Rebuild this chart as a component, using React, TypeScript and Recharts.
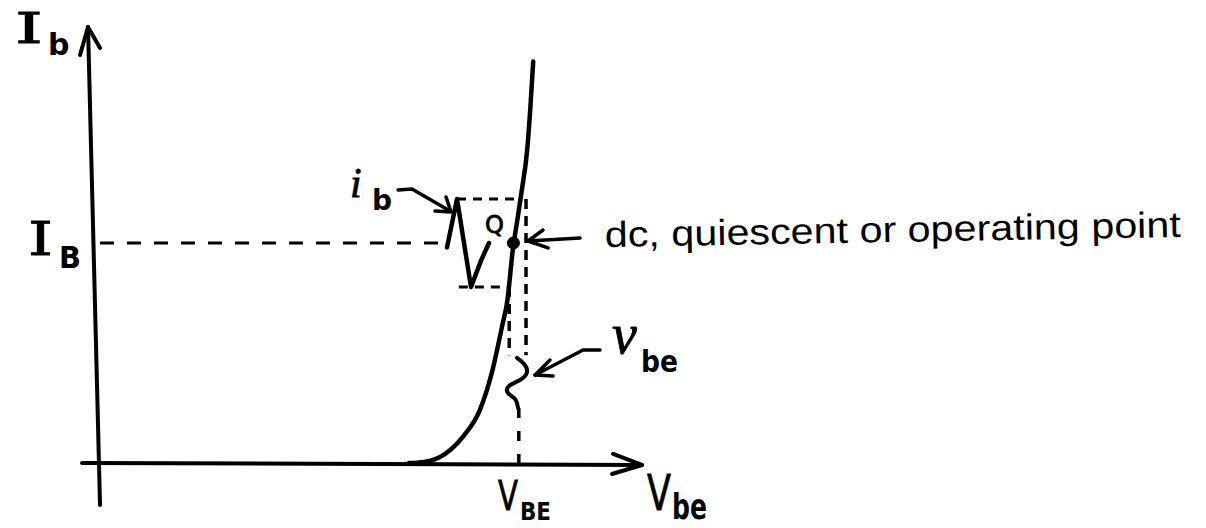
import { ComposedChart, Line, XAxis, YAxis, ReferenceLine, ReferenceDot } from "recharts";

// Transistor input characteristic: base current Ib (µA) vs base–emitter voltage Vbe (V)
const inputCurve = [
  { v: 0.52, i: 0 },
  { v: 0.545, i: 0.1 },
  { v: 0.57, i: 0.5 },
  { v: 0.61, i: 2.4 },
  { v: 0.638, i: 4.8 },
  { v: 0.658, i: 8.2 },
  { v: 0.675, i: 12.4 },
  { v: 0.684, i: 14.8 },
  { v: 0.693, i: 19.4 },
  { v: 0.7, i: 21.9 },
  { v: 0.708, i: 24.8 },
  { v: 0.717, i: 28.5 },
  { v: 0.722, i: 32.1 },
  { v: 0.727, i: 36.5 }
];

// operating point
const V_BE = 0.694;
const I_B = 20;
const IB_PEAK = 24;
const IB_TROUGH = 16;

// small-signal base current swing, sketched against time
const ibWave = [
  { v: 0.5833, i: 19.6 },
  { v: 0.6, i: 24 },
  { v: 0.6233, i: 16 },
  { v: 0.64, i: 18.4 },
  { v: 0.6533, i: 20 }
];

// small-signal vbe swing, time runs downward
const vbeWave = [
  { v: 0.7, i: 9.55 },
  { v: 0.7117, i: 9.0 },
  { v: 0.7167, i: 8.27 },
  { v: 0.705, i: 7.55 },
  { v: 0.6867, i: 7.0 },
  { v: 0.685, i: 6.36 },
  { v: 0.6967, i: 5.82 },
  { v: 0.7017, i: 5.0 }
];

// axes drawn by hand, with open arrowheads
const yAxisStroke = [
  { v: 0.005, i: -3.82 },
  { v: -0.015, i: 39.64 }
];
const yAxisHead = [
  { v: -0.0283, i: 37.09 },
  { v: -0.015, i: 39.64 },
  { v: 0.005, i: 37.73 }
];
const xAxisStroke = [
  { v: -0.025, i: 0 },
  { v: 0.9083, i: -0.18 }
];
const xAxisHead = [
  { v: 0.86, i: 0.82 },
  { v: 0.9083, i: -0.18 },
  { v: 0.8583, i: -1.0 }
];

// pointer arrows for the labels
const ibArrow = [
  { v: 0.5017, i: 24.82 },
  { v: 0.525, i: 24.91 },
  { v: 0.5883, i: 22.91 }
];
const ibArrowHead = [
  { v: 0.5633, i: 22.91 },
  { v: 0.59, i: 22.82 },
  { v: 0.5817, i: 24.18 }
];
const qArrow = [
  { v: 0.805, i: 20.45 },
  { v: 0.7183, i: 20.18 }
];
const qArrowHead = [
  { v: 0.7433, i: 21.18 },
  { v: 0.7183, i: 20.18 },
  { v: 0.7517, i: 19.55 }
];
const vbeArrow = [
  { v: 0.8383, i: 10.27 },
  { v: 0.81, i: 10.27 },
  { v: 0.73, i: 8.0 }
];
const vbeArrowHead = [
  { v: 0.755, i: 9.36 },
  { v: 0.73, i: 8.0 },
  { v: 0.76, i: 7.91 }
];

const V_DOMAIN = [-0.1617, 1.8483];
const I_DOMAIN = [-5.909, 42.091];

const INK = "#000";
const SANS = "'DejaVu Sans', sans-serif";
const SERIF = "'DejaVu Serif', serif";
const ITALIC = "'Liberation Serif', serif";

type SymProps = {
  cx?: number;
  cy?: number;
  main: string;
  sub?: string;
  font: string;
  size: number;
  mainWidth?: number;
  subSize?: number;
  subWidth?: number;
  subDx?: number;
  subDy?: number;
  italic?: boolean;
};

// a letter with an optional subscript, hand-lettered widths forced via textLength
function Sym({
  cx = 0,
  cy = 0,
  main,
  sub,
  font,
  size,
  mainWidth,
  subSize = 28,
  subWidth,
  subDx = 0,
  subDy = 0,
  italic
}: SymProps) {
  return (
    <g>
      <text
        x={cx}
        y={cy}
        fontFamily={font}
        fontSize={size}
        fontStyle={italic ? "italic" : "normal"}
        textLength={mainWidth}
        lengthAdjust={mainWidth ? "spacingAndGlyphs" : undefined}
        fill={INK}
        stroke={INK}
        strokeWidth={0.8}
      >
        {main}
      </text>
      {sub && (
        <text
          x={cx + subDx}
          y={cy + subDy}
          fontFamily={SANS}
          fontSize={subSize}
          fontWeight="bold"
          textLength={subWidth}
          lengthAdjust={subWidth ? "spacingAndGlyphs" : undefined}
          fill={INK}
        >
          {sub}
        </text>
      )}
    </g>
  );
}

const ink = (data: { v: number; i: number }[], width: number, type: "linear" | "monotone" | "natural" = "linear") => (
  <Line
    data={data}
    dataKey="i"
    type={type}
    stroke={INK}
    strokeWidth={width}
    strokeLinecap="round"
    strokeLinejoin="round"
    dot={false}
    activeDot={false}
    isAnimationActive={false}
  />
);

export default function App() {
  return (
    <div style={{ position: "absolute", left: 0, top: 0, width: 1206, height: 528, background: "#fff" }}>
      <ComposedChart width={1206} height={528} margin={{ top: 0, right: 0, bottom: 0, left: 0 }}>
        <XAxis type="number" dataKey="v" domain={V_DOMAIN} hide allowDataOverflow />
        <YAxis type="number" dataKey="i" domain={I_DOMAIN} hide allowDataOverflow />

        {/* projection lines from the operating point */}
        <ReferenceLine
          segment={[{ x: 0.005, y: I_B }, { x: 0.58, y: I_B }]}
          stroke={INK}
          strokeWidth={3}
          strokeDasharray="14 13"
        />
        <ReferenceLine
          segment={[{ x: 0.6, y: IB_PEAK }, { x: 0.703, y: IB_PEAK }]}
          stroke={INK}
          strokeWidth={3}
          strokeDasharray="9 7"
        />
        <ReferenceLine
          segment={[{ x: 0.603, y: IB_TROUGH }, { x: 0.686, y: IB_TROUGH }]}
          stroke={INK}
          strokeWidth={3}
          strokeDasharray="9 7"
        />
        <ReferenceLine
          segment={[{ x: 0.687, y: IB_TROUGH }, { x: 0.687, y: 9.8 }]}
          stroke={INK}
          strokeWidth={3.5}
          strokeDasharray="10 7"
        />
        <ReferenceLine
          segment={[{ x: 0.715, y: IB_PEAK }, { x: 0.715, y: 9.8 }]}
          stroke={INK}
          strokeWidth={3.5}
          strokeDasharray="10 7"
        />
        <ReferenceLine
          segment={[{ x: 0.703, y: 5 }, { x: 0.703, y: 0 }]}
          stroke={INK}
          strokeWidth={3.5}
          strokeDasharray="10 13"
        />

        {ink(yAxisStroke, 4)}
        {ink(yAxisHead, 4)}
        {ink(xAxisStroke, 4)}
        {ink(xAxisHead, 4)}

        {ink(inputCurve, 4.5, "monotone")}
        {ink(ibWave, 4.5)}
        {ink(vbeWave, 4, "natural")}

        {ink(ibArrow, 3.5)}
        {ink(ibArrowHead, 3.5)}
        {ink(qArrow, 3.5)}
        {ink(qArrowHead, 3.5)}
        {ink(vbeArrow, 3.5)}
        {ink(vbeArrowHead, 3.5)}

        <ReferenceDot x={V_BE} y={I_B} r={6} fill={INK} stroke={INK} ifOverflow="visible" />

        {/* axis and signal labels */}
        <ReferenceDot
          x={-0.1367}
          y={38.18}
          ifOverflow="visible"
          shape={(p: any) => (
            <Sym cx={p.cx} cy={p.cy} main="I" sub="b" font={SERIF} size={42} mainWidth={28}
              subSize={30} subDx={33} subDy={12} />
          )}
        />
        <ReferenceDot
          x={-0.115}
          y={18.91}
          ifOverflow="visible"
          shape={(p: any) => (
            <Sym cx={p.cx} cy={p.cy} main="I" sub="B" font={SERIF} size={46} mainWidth={25}
              subSize={31} subWidth={22} subDx={31} subDy={13} />
          )}
        />
        <ReferenceDot
          x={0.4217}
          y={24.18}
          ifOverflow="visible"
          shape={(p: any) => (
            <Sym cx={p.cx} cy={p.cy} main="i" sub="b" font={ITALIC} italic size={42}
              subSize={28} subDx={22} subDy={13} />
          )}
        />
        <ReferenceDot
          x={0.6467}
          y={20.91}
          ifOverflow="visible"
          shape={(p: any) => <Sym cx={p.cx} cy={p.cy} main="Q" font={SANS} size={24} />}
        />
        <ReferenceDot
          x={0.8583}
          y={10.0}
          ifOverflow="visible"
          shape={(p: any) => (
            <Sym cx={p.cx} cy={p.cy} main="v" sub="be" font={ITALIC} italic size={56}
              subSize={31} subWidth={37} subDx={29} subDy={19} />
          )}
        />
        <ReferenceDot
          x={0.6683}
          y={-4.3}
          ifOverflow="visible"
          shape={(p: any) => (
            <Sym cx={p.cx} cy={p.cy} main="V" sub="BE" font={SANS} size={40} mainWidth={20}
              subSize={24} subWidth={31} subDx={22} subDy={10} />
          )}
        />
        <ReferenceDot
          x={0.9167}
          y={-4.3}
          ifOverflow="visible"
          shape={(p: any) => (
            <Sym cx={p.cx} cy={p.cy} main="V" sub="be" font={SANS} size={50} mainWidth={24}
              subSize={35} subWidth={35} subDx={25} subDy={9} />
          )}
        />
        <ReferenceDot
          x={0.8467}
          y={19.64}
          ifOverflow="visible"
          shape={(p: any) => (
            <text
              x={p.cx}
              y={p.cy}
              fontFamily="'Liberation Sans', sans-serif"
              fontSize={36}
              textLength={576}
              lengthAdjust="spacingAndGlyphs"
              fill={INK}
              transform={`rotate(-1 ${p.cx} ${p.cy})`}
            >
              dc, quiescent or operating point
            </text>
          )}
        />
      </ComposedChart>
    </div>
  );
}
